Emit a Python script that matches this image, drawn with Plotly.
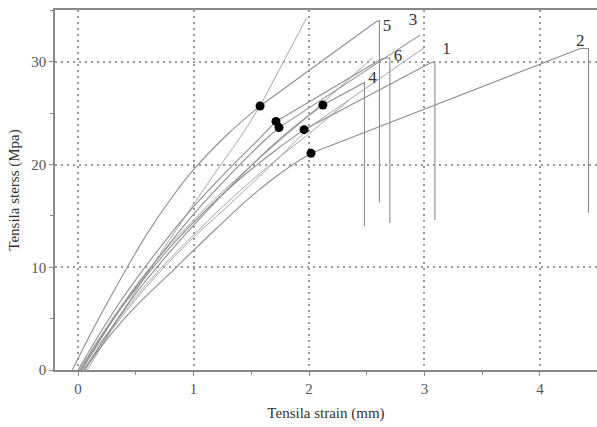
import plotly.graph_objects as go

# Tensile stress-strain records for six numbered specimens plus unlabeled runs.
# Each numbered curve: strain/stress lists, ending with the fracture drop.
c1_strain = [0.02, 0.30, 0.60, 0.85, 1.10, 1.40, 1.70, 1.957, 3.05, 3.09, 3.09]
c1_stress = [0.0, 4.9, 9.3, 12.6, 15.5, 18.6, 21.3, 23.4, 29.9, 30.0, 14.6]

c2_strain = [0.05, 0.40, 0.85, 1.20, 1.50, 1.77, 2.017, 4.35, 4.42, 4.42]
c2_stress = [0.0, 5.0, 10.0, 13.8, 16.9, 19.3, 21.1, 31.3, 31.3, 15.3]

c3_strain = [0.03, 0.40, 0.75, 1.05, 1.35, 1.60, 1.74, 2.96]
c3_stress = [0.0, 6.5, 11.7, 15.8, 19.4, 22.2, 23.6, 32.6]

c4_strain = [0.06, 0.45, 0.85, 1.20, 1.50, 1.80, 2.12, 2.48, 2.48]
c4_stress = [0.0, 6.7, 12.2, 16.5, 19.9, 23.0, 25.8, 28.0, 14.0]

c5_strain = [-0.05, 0.15, 0.39, 0.60, 0.80, 1.00, 1.30, 1.576, 2.58, 2.61, 2.61]
c5_stress = [0.0, 4.4, 9.3, 13.3, 16.6, 19.5, 23.0, 25.7, 33.9, 34.0, 16.3]

c6_strain = [0.00, 0.35, 0.70, 1.00, 1.30, 1.55, 1.714, 2.63, 2.70, 2.70]
c6_stress = [0.0, 6.4, 11.8, 15.9, 19.5, 22.3, 24.2, 30.3, 30.4, 14.3]

# Unlabeled runs
ua_strain = [0.08, 0.45, 0.80, 1.15, 1.40, 1.576, 1.98]
ua_stress = [0.0, 6.8, 12.8, 18.6, 22.6, 25.7, 34.3]
ub_strain = [0.04, 0.45, 0.90, 1.30, 1.65, 2.00, 3.00]
ub_stress = [0.0, 6.2, 11.8, 16.0, 19.7, 23.6, 31.4]
uc_strain = [0.01, 0.50, 1.00, 1.50, 1.90, 2.55]
uc_stress = [0.0, 8.2, 14.6, 19.9, 23.8, 30.4]
ud_strain = [0.02, 0.55, 1.05, 1.55, 2.00, 2.35]
ud_stress = [0.0, 7.8, 13.7, 18.9, 23.0, 26.3]

# Yield points marked on the curves
yield_strain = [1.576, 1.714, 1.74, 1.957, 2.12, 2.017]
yield_stress = [25.7, 24.2, 23.6, 23.4, 25.8, 21.1]

# Specimen labels near the curve ends
label_text = ["5", "3", "6", "1", "2", "4"]
label_strain = [2.675, 2.90, 2.77, 3.19, 4.35, 2.55]
label_stress = [33.4, 34.0, 30.5, 31.2, 32.0, 28.4]

x_ticks = [0, 1, 2, 3, 4]
y_ticks = [0, 10, 20, 30]

SERIF = "Liberation Serif, Times New Roman, serif"
LINE = "#8e8e8e"
FAINT = "#a6a6a6"

fig = go.Figure()


def add_curve(xs, ys, knee, color, width):
    """Smooth elastic part up to the knee point, straight segments after it."""
    fig.add_trace(go.Scatter(x=xs[:knee + 1], y=ys[:knee + 1], mode="lines",
                             line=dict(color=color, width=width,
                                       shape="spline", smoothing=1.2),
                             hoverinfo="skip", showlegend=False))
    if knee < len(xs) - 1:
        fig.add_trace(go.Scatter(x=xs[knee:], y=ys[knee:], mode="lines",
                                 line=dict(color=color, width=width),
                                 hoverinfo="skip", showlegend=False))


unlabeled = [(ua_strain, ua_stress, 5), (ub_strain, ub_stress, 5),
             (uc_strain, uc_stress, 4), (ud_strain, ud_stress, 4)]
for xs, ys, k in unlabeled:
    add_curve(xs, ys, k, FAINT, 1)

numbered = [(c1_strain, c1_stress, 7), (c2_strain, c2_stress, 6),
            (c3_strain, c3_stress, 6), (c4_strain, c4_stress, 6),
            (c5_strain, c5_stress, 7), (c6_strain, c6_stress, 6)]
for xs, ys, k in numbered:
    add_curve(xs, ys, k, LINE, 1.1)

fig.add_trace(go.Scatter(x=yield_strain, y=yield_stress, mode="markers",
                         marker=dict(color="black", size=9),
                         showlegend=False))

fig.add_trace(go.Scatter(x=label_strain, y=label_stress, mode="text",
                         text=label_text,
                         textfont=dict(family=SERIF, size=17, color="#333333"),
                         showlegend=False))

fig.update_layout(
    width=597, height=427,
    margin=dict(l=55, r=0, t=10, b=57),
    paper_bgcolor="white", plot_bgcolor="white",
    font=dict(family=SERIF, size=14, color="#444444"),
    xaxis=dict(
        range=[-0.2, 4.494], tickvals=x_ticks,
        showgrid=True, gridcolor="#9a9a9a", gridwidth=1.5, griddash="2px,4px",
        zeroline=False, showline=True, linecolor="#888888", linewidth=1.5,
        mirror=True, ticks="outside", ticklen=4, tickcolor="#888888",
        minor=dict(dtick=0.5, ticks="outside", ticklen=3, tickcolor="#888888",
                   showgrid=False),
        title=dict(text="Tensila strain (mm)", standoff=12,
                   font=dict(family=SERIF, size=15, color="#333333")),
        tickfont=dict(family=SERIF, size=15, color="#555555"),
    ),
    yaxis=dict(
        range=[0, 35.05], tickvals=y_ticks,
        showgrid=True, gridcolor="#9a9a9a", gridwidth=1.5, griddash="2px,4px",
        zeroline=False, showline=True, linecolor="#888888", linewidth=1.5,
        ticks="outside", ticklen=4, tickcolor="#888888",
        minor=dict(dtick=5, ticks="outside", ticklen=3, tickcolor="#888888",
                   showgrid=False),
        title=dict(text="Tensila sterss (Mpa)", standoff=8,
                   font=dict(family=SERIF, size=15, color="#333333")),
        tickfont=dict(family=SERIF, size=15, color="#555555"),
    ),
)

fig.write_html("out.html")
